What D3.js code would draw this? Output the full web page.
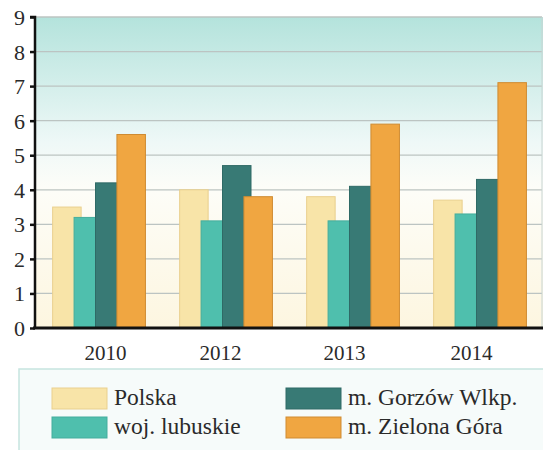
<!DOCTYPE html>
<html><head><meta charset="utf-8">
<script src="https://cdn.jsdelivr.net/npm/d3@7"></script>
<style>
html,body{margin:0;padding:0;background:#fff;}
svg{display:block;}
svg text{font-family:'Liberation Serif','DejaVu Serif',serif;}
</style></head>
<body>
<script>
const years = ["2010", "2012", "2013", "2014"];
const seriesNames = ["Polska", "woj. lubuskie", "m. Gorzów Wlkp.", "m. Zielona Góra"];
const polska = [3.5, 4.0, 3.8, 3.7];
const lubuskie = [3.2, 3.1, 3.1, 3.3];
const gorzow = [4.2, 4.7, 4.1, 4.3];
const zielona = [5.6, 3.8, 5.9, 7.1];
const yTicks = [0, 1, 2, 3, 4, 5, 6, 7, 8, 9];
const colors = ["#f8e4a8", "#4fbfad", "#387a75", "#f0a641"];
const strokes = ["#e9d08e", "#45ad9d", "#2f6a66", "#cf8b32"];

const series = [polska, lubuskie, gorzow, zielona];
const W = 543, H = 450;
const mLeft = 35, mRight = 543, mTop = 17, mBottom = 328;
const serif = "'Liberation Serif', serif";

const svg = d3.select("body").append("svg").attr("width", W).attr("height", H);
const defs = svg.append("defs");
const grad = defs.append("linearGradient").attr("id", "bg").attr("x1", 0).attr("y1", 0).attr("x2", 0).attr("y2", 1);
grad.append("stop").attr("offset", "0%").attr("stop-color", "#b4e3dc");
grad.append("stop").attr("offset", "40%").attr("stop-color", "#eef8f7");
grad.append("stop").attr("offset", "55%").attr("stop-color", "#fdfdf8");
grad.append("stop").attr("offset", "100%").attr("stop-color", "#fdf6e0");

const y = d3.scaleLinear().domain([0, 9]).range([mBottom, mTop]);
const x = d3.scaleBand().domain(years).range([mLeft, mRight]).paddingInner(0.27).paddingOuter(0.135);
const barW = 28.5;
const x1 = d3.scaleBand().domain(seriesNames).range([0, x.bandwidth() - barW + 21.5]).padding(0);

// background
svg.append("rect").attr("x", mLeft).attr("y", mTop).attr("width", mRight - mLeft).attr("height", mBottom - mTop).attr("fill", "url(#bg)");

// grid
svg.append("g").selectAll("line").data(yTicks.filter(d => d > 0)).join("line")
  .attr("x1", mLeft).attr("x2", mRight - 1)
  .attr("y1", d => y(d)).attr("y2", d => y(d))
  .attr("stroke", "#bcc4c2").attr("stroke-width", 1.3);
svg.append("line").attr("x1", mRight - 1).attr("x2", mRight - 1).attr("y1", mTop).attr("y2", mBottom).attr("stroke", "#c8d4d2");

// bars
const gGroups = svg.append("g").selectAll("g").data(years).join("g")
  .attr("transform", d => `translate(${x(d)},0)`);
gGroups.each(function(yr, i) {
  const g = d3.select(this);
  seriesNames.forEach((s, k) => {
    const v = series[k][i];
    g.append("rect")
      .attr("x", x1(s) + 0.5).attr("y", y(v))
      .attr("width", barW).attr("height", y(0) - y(v))
      .attr("fill", colors[k]).attr("stroke", strokes[k]).attr("stroke-width", 1);
  });
});

// y axis
const yAxis = d3.axisLeft(y).tickValues(yTicks).tickSize(5).tickFormat(d3.format("d"));
const gy = svg.append("g").attr("transform", `translate(${mLeft},0)`).call(yAxis)
  .attr("font-family", serif).attr("font-size", 22);
gy.select(".domain").attr("stroke", "#111").attr("stroke-width", 2.5).attr("d", `M-5,${mTop}H0V${mBottom}`);
gy.selectAll(".tick line").attr("stroke", "#111").attr("stroke-width", 2.5);
gy.selectAll(".tick text").style("font-family", serif).style("font-size", "22px")
  .attr("fill", "#2a2a2a").attr("x", -10).attr("dy", "0.34em");

// x axis
const xAxis = d3.axisBottom(x).tickSize(0).tickPadding(0);
const gx = svg.append("g").attr("transform", `translate(0,${mBottom})`).call(xAxis)
  .attr("font-family", serif).attr("font-size", 21);
gx.select(".domain").attr("stroke", "#111").attr("stroke-width", 3).attr("d", `M${mLeft - 2},0H${W}`);
const labelShift = [7, -5, -8, -8];
gx.selectAll(".tick text").style("font-family", serif).style("font-size", "21px")
  .attr("fill", "#2a2a2a").attr("y", 32).attr("dy", 0)
  .attr("transform", (d, i) => `translate(${labelShift[i]},0)`);

// legend
const lg = svg.append("g");
lg.append("rect").attr("x", 19).attr("y", 369).attr("width", 540).attr("height", 100)
  .attr("fill", "#f6fbfa").attr("stroke", "#c6e5e0").attr("stroke-width", 1.5);
const legPos = [[52, 388], [52, 417], [286, 388], [286, 417]];
seriesNames.forEach((s, k) => {
  const [lx, ly] = legPos[k];
  lg.append("rect").attr("x", lx).attr("y", ly).attr("width", 55).attr("height", 21)
    .attr("fill", colors[k]).attr("stroke", strokes[k]).attr("stroke-width", 1);
  lg.append("text").attr("x", lx + 62).attr("y", ly + 17)
    .style("font-family", serif).style("font-size", "23.5px").attr("fill", "#2a2a2a")
    .text(s);
});
</script>
</body></html>
